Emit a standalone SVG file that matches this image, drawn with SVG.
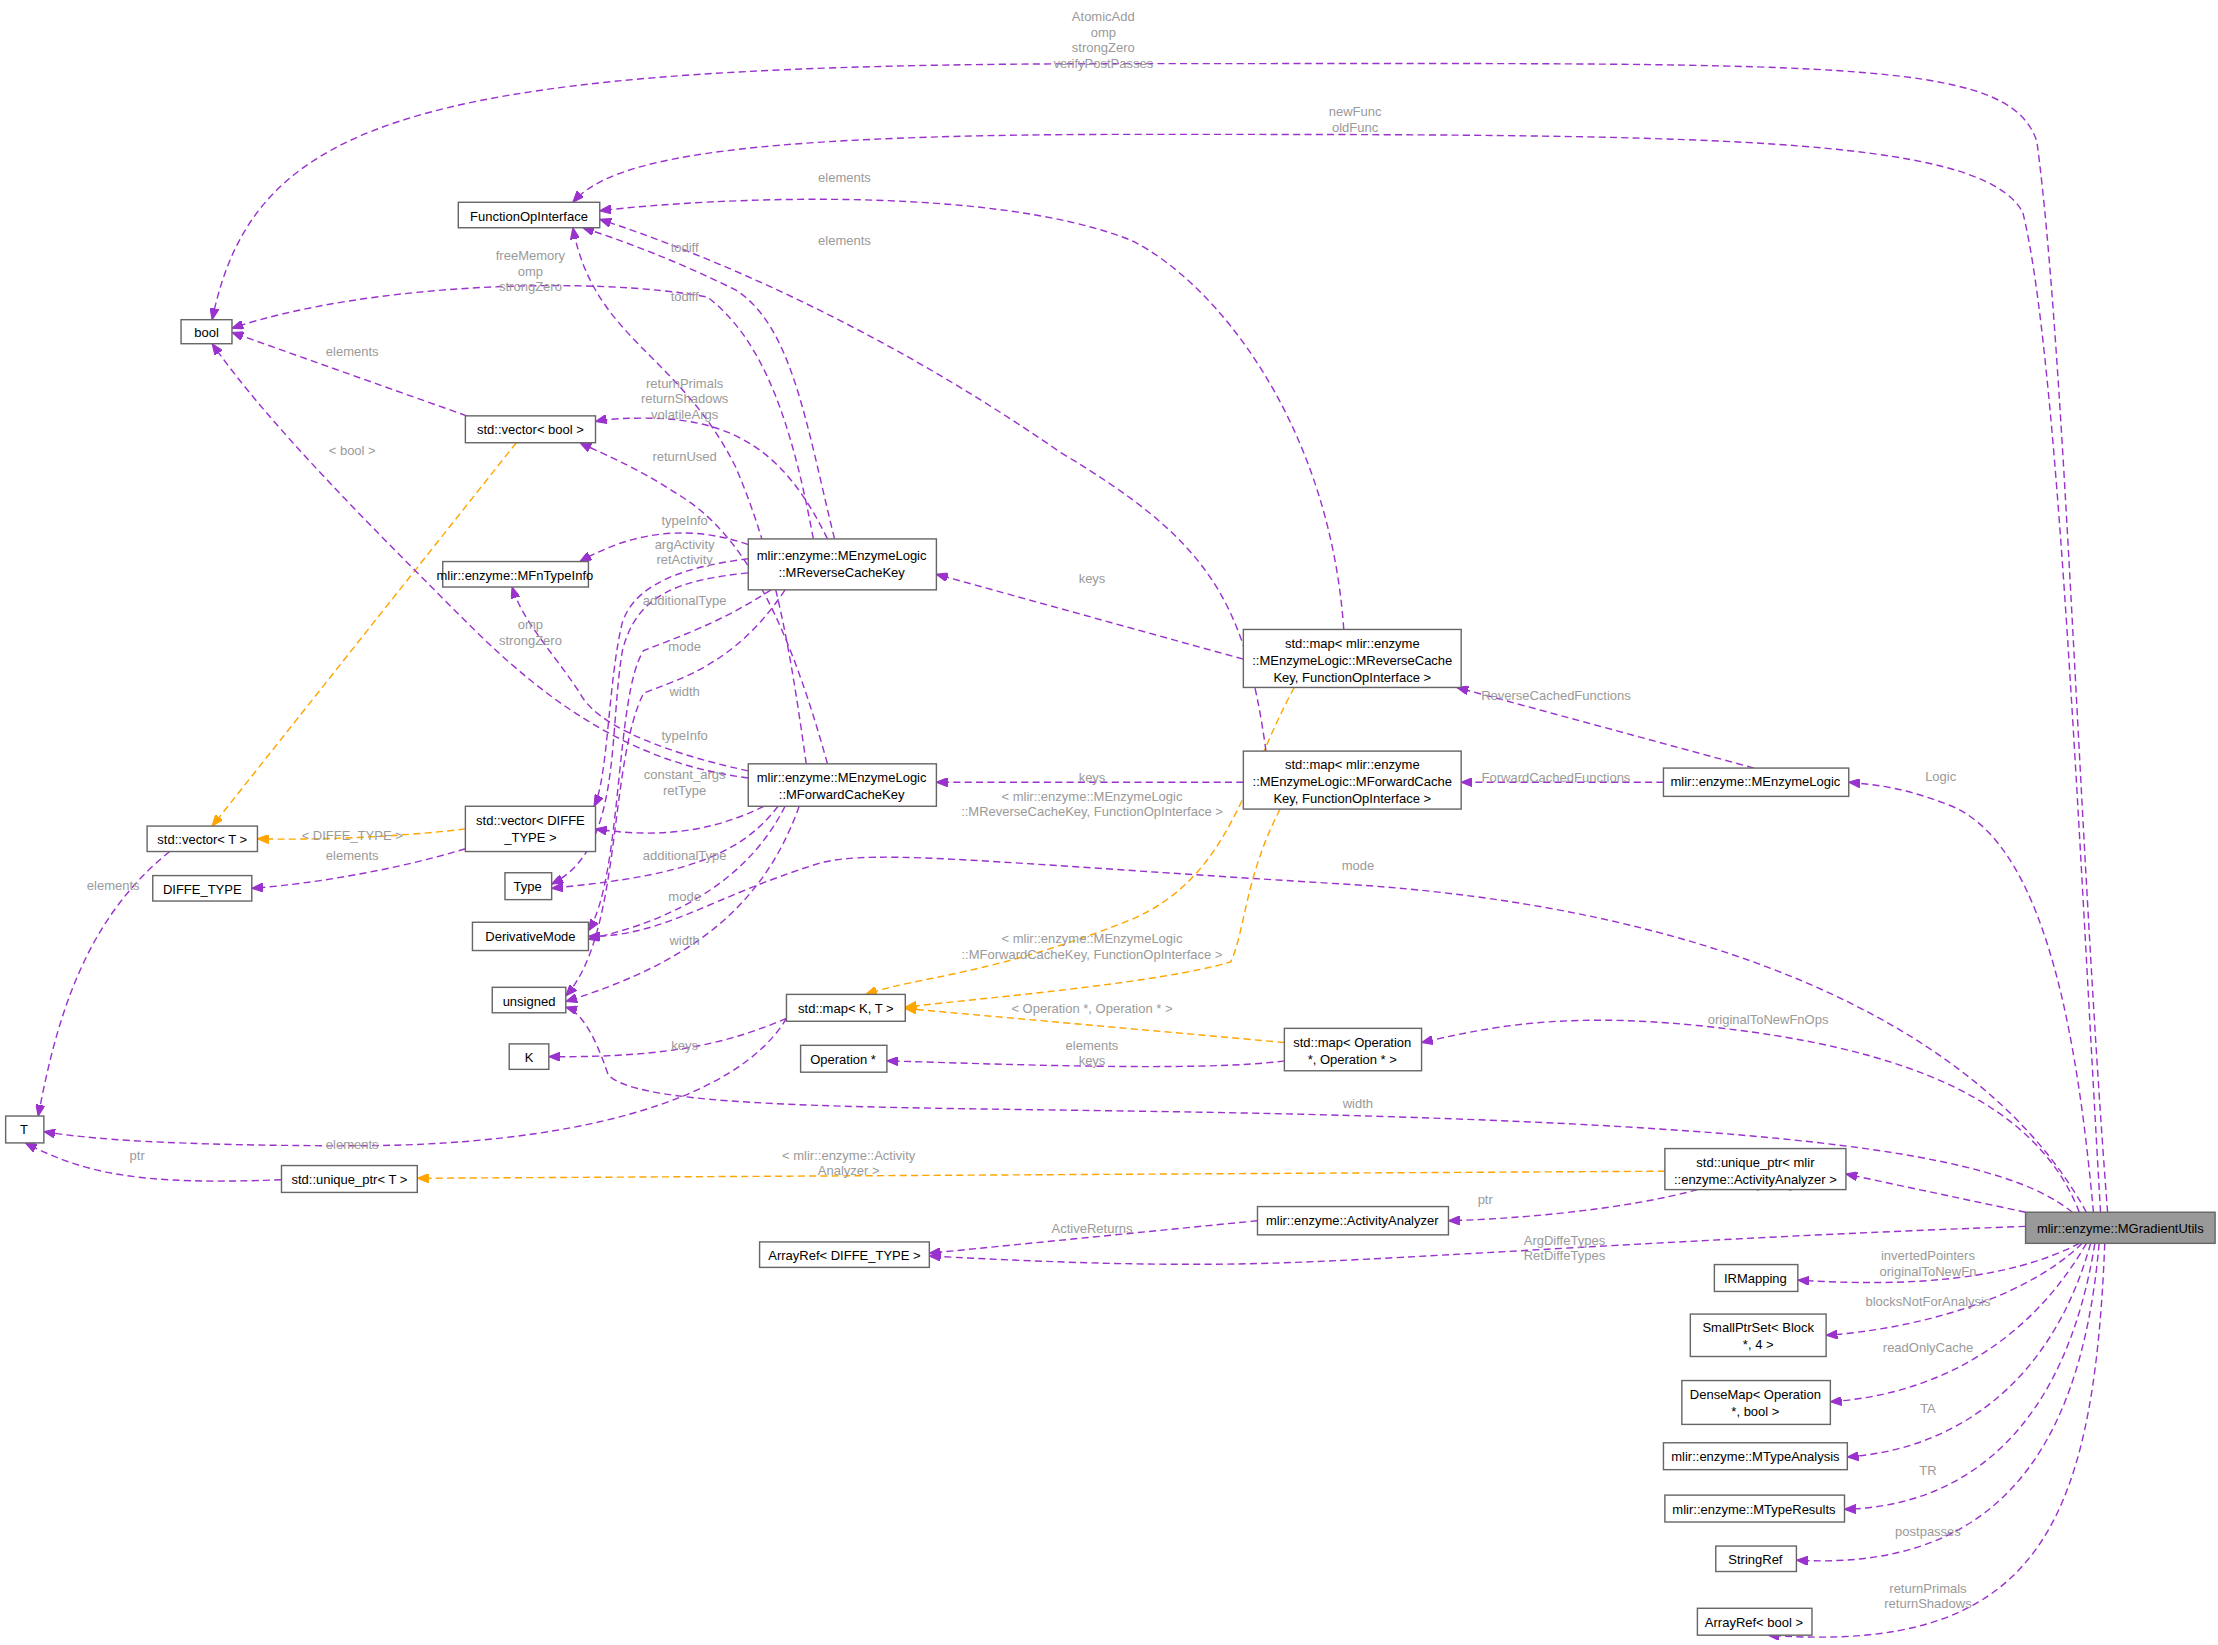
<svg xmlns="http://www.w3.org/2000/svg" width="2218" height="1645" viewBox="0 0 2218 1645">
<style>
.n rect{fill:#fff;stroke:#666;stroke-width:1}
.n text,.l text{font-family:"Liberation Sans",Arial,sans-serif;font-size:9.2px;text-anchor:middle}
.n text{fill:#000}
.l text{fill:#9a9a9a}
.e path{fill:none;stroke-width:1;stroke-dasharray:5,3}
.p{stroke:#9a32cd;marker-end:url(#mp)}
.o{stroke:#ffa500;marker-end:url(#mo)}
</style>
<defs>
<marker id="mp" viewBox="0 0 10 8" refX="10" refY="4" markerWidth="8" markerHeight="6.4" orient="auto" markerUnits="userSpaceOnUse"><path d="M0,0L10,4L0,8z" fill="#9a32cd" stroke="#9a32cd"/></marker>
<marker id="mo" viewBox="0 0 10 8" refX="10" refY="4" markerWidth="8" markerHeight="6.4" orient="auto" markerUnits="userSpaceOnUse"><path d="M0,0L10,4L0,8z" fill="#ffa500" stroke="#ffa500"/></marker>
</defs>
<rect width="2218" height="1645" fill="#fff"/>
<g transform="scale(1.4145)">
<g id="edges" class="e">
<path class="p" d="M1490,857 C1470,600 1460,250 1440,100 C1420,40 1300,45 800,45 C300,45 180,80 150,226"/>
<path class="p" d="M1485,857 C1470,600 1455,250 1430,150 C1400,95 1200,95 800,95 C500,95 430,115 405,143"/>
<path class="p" d="M1480,857 C1470,750 1450,600 1380,570 C1350,558 1330,555 1307,553"/>
<path class="p" d="M1475,857 C1400,720 1200,640 950,625 C700,610 620,600 580,610 C500,635 470,662 416,662"/>
<path class="p" d="M1470,857 C1440,780 1350,740 1200,725 C1100,715 1050,727 1005,737"/>
<path class="p" d="M1465,857 C1420,820 1300,800 1000,790 C700,780 460,790 430,760 C420,730 410,715 400,712"/>
<path class="p" d="M1432,857 L1305,830"/>
<path class="p" d="M1432,867 C1200,875 1000,890 900,893 C800,896 700,890 657,888"/>
<path class="p" d="M1470,879 C1420,905 1350,910 1271,905"/>
<path class="p" d="M1472,879 C1430,920 1350,940 1291,944"/>
<path class="p" d="M1475,879 C1440,940 1380,985 1294,991"/>
<path class="p" d="M1478,879 C1450,980 1380,1025 1306,1030"/>
<path class="p" d="M1481,879 C1460,1010 1390,1065 1304,1067"/>
<path class="p" d="M1484,879 C1470,1040 1400,1110 1270,1103"/>
<path class="p" d="M1488,879 C1480,1080 1440,1170 1250,1156"/>
<path class="p" d="M1240,543 L1030,486"/>
<path class="p" d="M1176,553 L1033,553"/>
<path class="p" d="M879,466 L662,406"/>
<path class="p" d="M950,445 C940,300 860,200 800,170 C700,130 500,140 424,149"/>
<path class="o" d="M915,486 C880,550 870,620 800,650 C700,690 650,690 612,703"/>
<path class="p" d="M879,553 L662,553"/>
<path class="p" d="M895,531 C880,420 850,380 750,320 C620,230 500,180 424,155"/>
<path class="o" d="M905,572 C880,620 880,660 870,680 C820,695 700,705 640,712"/>
<path class="o" d="M908,737 L640,713"/>
<path class="p" d="M908,750 C850,758 700,752 627,750"/>
<path class="p" d="M556,720 C520,735 480,748 388,747"/>
<path class="p" d="M556,720 C520,780 400,810 250,810 C120,810 60,805 31,800"/>
<path class="p" d="M199,834 C100,838 60,830 18,808"/>
<path class="o" d="M1177,828 L295,833"/>
<path class="p" d="M1200,841 C1150,855 1070,862 1024,863"/>
<path class="p" d="M889,863 L657,886"/>
<path class="p" d="M330,294 L164,235"/>
<path class="o" d="M365,313 L150,584"/>
<path class="o" d="M329,586 C280,592 220,594 182,593"/>
<path class="p" d="M329,600 C280,615 220,625 178,628"/>
<path class="p" d="M120,602 C60,650 40,720 27,789"/>
<path class="p" d="M590,381 C570,300 560,230 520,205 C480,185 440,170 412,161"/>
<path class="p" d="M575,381 C560,300 540,240 500,210 C420,195 260,200 164,232"/>
<path class="p" d="M585,381 C560,330 530,300 470,296 C450,295 430,296 421,298"/>
<path class="p" d="M529,385 C480,368 440,380 410,397"/>
<path class="p" d="M529,395 C490,400 450,410 440,440 C430,480 430,550 420,570"/>
<path class="p" d="M529,405 C480,410 450,420 440,460 C430,520 440,600 390,625"/>
<path class="p" d="M545,417 C510,440 480,450 455,460 C435,490 440,620 416,658"/>
<path class="p" d="M555,417 C520,470 480,480 455,490 C430,540 440,660 400,704"/>
<path class="p" d="M570,540 C560,470 550,400 520,330 C480,250 420,240 405,161"/>
<path class="p" d="M529,550 C450,540 390,500 330,440 C260,370 190,300 150,243"/>
<path class="p" d="M585,540 C560,450 530,380 480,350 C450,330 420,318 410,313"/>
<path class="p" d="M529,545 C460,530 420,510 410,490 C390,460 370,440 362,415"/>
<path class="p" d="M540,570 C500,590 460,592 421,586"/>
<path class="p" d="M550,570 C520,610 470,620 390,628"/>
<path class="p" d="M555,570 C530,620 480,650 416,664"/>
<path class="p" d="M565,570 C540,640 490,680 400,708"/>
</g>
<g id="labels" class="l">
<text x="780" y="15">AtomicAdd</text><text x="780" y="26">omp</text><text x="780" y="37">strongZero</text><text x="780" y="48">verifyPostPasses</text>
<text x="958" y="82">newFunc</text><text x="958" y="93">oldFunc</text>
<text x="1372" y="552">Logic</text>
<text x="960" y="615">mode</text>
<text x="1250" y="724">originalToNewFnOps</text>
<text x="960" y="783">width</text>
<text x="1250" y="840">activityAnalyzer</text>
<text x="1106" y="880">ArgDiffeTypes</text><text x="1106" y="891">RetDiffeTypes</text>
<text x="1363" y="891">invertedPointers</text><text x="1363" y="902">originalToNewFn</text>
<text x="1363" y="923">blocksNotForAnalysis</text>
<text x="1363" y="956">readOnlyCache</text>
<text x="1363" y="999">TA</text>
<text x="1363" y="1043">TR</text>
<text x="1363" y="1086">postpasses</text>
<text x="1363" y="1126">returnPrimals</text><text x="1363" y="1137">returnShadows</text>
<text x="1100" y="495">ReverseCachedFunctions</text>
<text x="1100" y="553">ForwardCachedFunctions</text>
<text x="772" y="412">keys</text>
<text x="597" y="129">elements</text>
<text x="597" y="173">elements</text>
<text x="772" y="553">keys</text>
<text x="772" y="566">&lt; mlir::enzyme::MEnzymeLogic</text><text x="772" y="577">::MReverseCacheKey, FunctionOpInterface &gt;</text>
<text x="772" y="667">&lt; mlir::enzyme::MEnzymeLogic</text><text x="772" y="678">::MForwardCacheKey, FunctionOpInterface &gt;</text>
<text x="772" y="716">&lt; Operation *, Operation * &gt;</text>
<text x="772" y="742">elements</text><text x="772" y="753">keys</text>
<text x="484" y="742">keys</text>
<text x="249" y="812">elements</text>
<text x="97" y="820">ptr</text>
<text x="600" y="820">&lt; mlir::enzyme::Activity</text><text x="600" y="831">Analyzer &gt;</text>
<text x="1050" y="851">ptr</text>
<text x="772" y="872">ActiveReturns</text>
<text x="249" y="252">elements</text>
<text x="249" y="322">&lt; bool &gt;</text>
<text x="249" y="594">&lt; DIFFE_TYPE &gt;</text>
<text x="249" y="608">elements</text>
<text x="80" y="629">elements</text>
<text x="484" y="178">todiff</text>
<text x="375" y="184">freeMemory</text><text x="375" y="195">omp</text><text x="375" y="206">strongZero</text>
<text x="484" y="274">returnPrimals</text><text x="484" y="285">returnShadows</text><text x="484" y="296">volatileArgs</text>
<text x="484" y="371">typeInfo</text>
<text x="484" y="388">argActivity</text><text x="484" y="399">retActivity</text>
<text x="484" y="428">additionalType</text>
<text x="484" y="460">mode</text>
<text x="484" y="492">width</text>
<text x="484" y="213">todiff</text>
<text x="375" y="445">omp</text><text x="375" y="456">strongZero</text>
<text x="484" y="326">returnUsed</text>
<text x="484" y="523">typeInfo</text>
<text x="484" y="551">constant_args</text><text x="484" y="562">retType</text>
<text x="484" y="608">additionalType</text>
<text x="484" y="637">mode</text>
<text x="484" y="668">width</text>
</g>
<g id="n_gu" class="n"><rect x="1432" y="857" width="134" height="22" style="fill:#999"/><text x="1499" y="872">mlir::enzyme::MGradientUtils</text></g>
<g id="n_bool" class="n"><rect x="128" y="226" width="36" height="17"/><text x="146" y="238">bool</text></g>
<g id="n_foi" class="n"><rect x="324" y="143" width="100" height="18"/><text x="374" y="156">FunctionOpInterface</text></g>
<g id="n_vb" class="n"><rect x="329" y="294" width="92" height="19"/><text x="375" y="307">std::vector&lt; bool &gt;</text></g>
<g id="n_fti" class="n"><rect x="313" y="397" width="103" height="18"/><text x="364" y="410">mlir::enzyme::MFnTypeInfo</text></g>
<g id="n_rck" class="n"><rect x="529" y="381" width="133" height="36"/><text x="595" y="396">mlir::enzyme::MEnzymeLogic</text><text x="595" y="408">::MReverseCacheKey</text></g>
<g id="n_fck" class="n"><rect x="529" y="540" width="133" height="30"/><text x="595" y="553">mlir::enzyme::MEnzymeLogic</text><text x="595" y="565">::MForwardCacheKey</text></g>
<g id="n_vt" class="n"><rect x="104" y="584" width="78" height="18"/><text x="143" y="597">std::vector&lt; T &gt;</text></g>
<g id="n_vd" class="n"><rect x="329" y="570" width="92" height="32"/><text x="375" y="583">std::vector&lt; DIFFE</text><text x="375" y="595">_TYPE &gt;</text></g>
<g id="n_dt" class="n"><rect x="108" y="619" width="70" height="18"/><text x="143" y="632">DIFFE_TYPE</text></g>
<g id="n_type" class="n"><rect x="357" y="617" width="33" height="19"/><text x="373" y="630">Type</text></g>
<g id="n_dm" class="n"><rect x="334" y="652" width="82" height="20"/><text x="375" y="665">DerivativeMode</text></g>
<g id="n_un" class="n"><rect x="348" y="698" width="52" height="18"/><text x="374" y="711">unsigned</text></g>
<g id="n_k" class="n"><rect x="360" y="738" width="28" height="18"/><text x="374" y="751">K</text></g>
<g id="n_t" class="n"><rect x="4" y="789" width="27" height="19"/><text x="17" y="802">T</text></g>
<g id="n_upt" class="n"><rect x="199" y="824" width="96" height="19"/><text x="247" y="837">std::unique_ptr&lt; T &gt;</text></g>
<g id="n_mkt" class="n"><rect x="556" y="703" width="84" height="19"/><text x="598" y="716">std::map&lt; K, T &gt;</text></g>
<g id="n_op" class="n"><rect x="566" y="739" width="61" height="19"/><text x="596" y="752">Operation *</text></g>
<g id="n_mop" class="n"><rect x="908" y="727" width="97" height="30"/><text x="956" y="740">std::map&lt; Operation</text><text x="956" y="752">*, Operation * &gt;</text></g>
<g id="n_mr" class="n"><rect x="879" y="445" width="154" height="41"/><text x="956" y="458">std::map&lt; mlir::enzyme</text><text x="956" y="470">::MEnzymeLogic::MReverseCache</text><text x="956" y="482">Key, FunctionOpInterface &gt;</text></g>
<g id="n_mf" class="n"><rect x="879" y="531" width="154" height="41"/><text x="956" y="544">std::map&lt; mlir::enzyme</text><text x="956" y="556">::MEnzymeLogic::MForwardCache</text><text x="956" y="568">Key, FunctionOpInterface &gt;</text></g>
<g id="n_el" class="n"><rect x="1176" y="543" width="131" height="20"/><text x="1241" y="556">mlir::enzyme::MEnzymeLogic</text></g>
<g id="n_upa" class="n"><rect x="1177" y="812" width="128" height="29"/><text x="1241" y="825">std::unique_ptr&lt; mlir</text><text x="1241" y="837">::enzyme::ActivityAnalyzer &gt;</text></g>
<g id="n_aa" class="n"><rect x="889" y="853" width="135" height="20"/><text x="956" y="866">mlir::enzyme::ActivityAnalyzer</text></g>
<g id="n_ard" class="n"><rect x="537" y="878" width="120" height="18"/><text x="597" y="891">ArrayRef&lt; DIFFE_TYPE &gt;</text></g>
<g id="n_irm" class="n"><rect x="1212" y="894" width="59" height="19"/><text x="1241" y="907">IRMapping</text></g>
<g id="n_sps" class="n"><rect x="1195" y="929" width="96" height="30"/><text x="1243" y="942">SmallPtrSet&lt; Block</text><text x="1243" y="954">*, 4 &gt;</text></g>
<g id="n_dmap" class="n"><rect x="1189" y="976" width="105" height="31"/><text x="1241" y="989">DenseMap&lt; Operation</text><text x="1241" y="1001">*, bool &gt;</text></g>
<g id="n_ta" class="n"><rect x="1176" y="1020" width="130" height="19"/><text x="1241" y="1033">mlir::enzyme::MTypeAnalysis</text></g>
<g id="n_tr" class="n"><rect x="1177" y="1057" width="127" height="19"/><text x="1240" y="1070">mlir::enzyme::MTypeResults</text></g>
<g id="n_sr" class="n"><rect x="1213" y="1093" width="57" height="18"/><text x="1241" y="1106">StringRef</text></g>
<g id="n_arb" class="n"><rect x="1200" y="1137" width="81" height="19"/><text x="1240" y="1150">ArrayRef&lt; bool &gt;</text></g>
</g>
</svg>
